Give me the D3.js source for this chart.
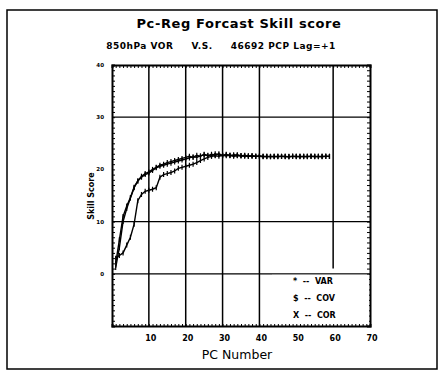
<!DOCTYPE html>
<html><head><meta charset="utf-8">
<script src="https://cdn.jsdelivr.net/npm/d3@7"></script>
<style>body{margin:0;background:#fff}svg{display:block}text{font-family:"DejaVu Sans",sans-serif;fill:#000}</style>
</head><body>
<script>
const pcNumbers = d3.range(1, 60);
const varScore = [2.0,6.5,11.0,13.0,14.6,16.6,17.8,18.5,19.0,19.3,19.8,20.3,20.6,20.8,21.0,21.2,21.4,21.6,21.8,22.0,22.2,22.4,22.3,22.6,22.8,22.6,22.9,22.7,23.0,22.7,22.9,22.6,22.8,22.7,22.6,22.7,22.5,22.6,22.5,22.6,22.5,22.4,22.5,22.5,22.4,22.5,22.5,22.4,22.5,22.5,22.4,22.5,22.5,22.5,22.4,22.5,22.5,22.5,22.5];
const covScore = [3.0,3.5,4.0,5.5,7.0,9.5,14.0,15.2,15.8,16.0,16.2,16.5,18.5,19.0,19.2,19.4,19.7,20.2,20.4,20.6,20.8,21.0,21.3,21.7,22.0,22.3,22.5,22.6,22.5,22.7,22.6,22.7,22.5,22.6,22.6,22.5,22.6,22.5,22.5,22.5,22.4,22.5,22.5,22.4,22.5,22.5,22.5,22.4,22.5,22.5,22.5,22.4,22.5,22.5,22.5,22.4,22.5,22.5,22.5];
const corScore = [1.2,5.0,10.0,12.5,14.5,16.5,17.8,18.7,19.2,19.5,20.0,20.4,20.8,21.0,21.3,21.5,21.7,21.9,22.1,22.3,22.5,22.3,22.7,22.5,22.9,22.7,22.6,23.0,22.8,22.6,22.8,22.7,22.6,22.8,22.6,22.6,22.5,22.6,22.5,22.5,22.5,22.5,22.4,22.5,22.5,22.5,22.4,22.5,22.5,22.4,22.5,22.5,22.4,22.5,22.5,22.5,22.4,22.5,22.5];
const xTicks = [10,20,30,40,50,60,70];
const yTicks = [0,10,20,30,40];
const xGrid = [10,20,30,40,60];
const yGrid = [0,10,30];
const legendItems = ["*  --  VAR","$  --  COV","X  --  COR"];

const W=439,H=372;
const svg=d3.select("body").append("svg").attr("width",W).attr("height",H);
svg.append("rect").attr("x",7).attr("y",10).attr("width",430).attr("height",359)
  .attr("fill","none").attr("stroke","#000").attr("stroke-width",1.5);

const L=112,R=370,T=65,B=326;
const x=d3.scaleLinear().domain([0,70]).range([L,R]);
const y=d3.scaleLinear().domain([-10,40]).range([B,T]);

// grid
svg.append("g").selectAll("line").data(xGrid).join("line")
  .attr("x1",d=>x(d)).attr("x2",d=>x(d)).attr("y1",T).attr("y2",d=>d===60?y(1):B)
  .attr("stroke","#000").attr("stroke-width",1.5);
svg.append("g").selectAll("line").data(yGrid).join("line")
  .attr("x1",L).attr("x2",R).attr("y1",d=>y(d)).attr("y2",d=>y(d))
  .attr("stroke","#000").attr("stroke-width",1.3);

// axes with minor ticks
const gl=svg.append("g").attr("transform",`translate(${L},0)`)
  .call(d3.axisRight(y).ticks(50).tickSize(3).tickFormat(""));
const gr=svg.append("g").attr("transform",`translate(${R},0)`)
  .call(d3.axisLeft(y).ticks(50).tickSize(3).tickFormat(""));
const gt=svg.append("g").attr("transform",`translate(0,${T})`)
  .call(d3.axisBottom(x).ticks(70).tickSize(3).tickFormat(""));
const gb=svg.append("g").attr("transform",`translate(0,${B})`)
  .call(d3.axisTop(x).ticks(70).tickSize(2).tickFormat(""));
[gl,gr,gt,gb].forEach(g=>{g.selectAll("path").attr("stroke-width",2);g.selectAll("line").attr("stroke-width",1);});

// tick labels
svg.append("g").selectAll("text").data(xTicks).join("text")
  .attr("x",d=>x(d)+2).attr("y",341).attr("text-anchor","middle")
  .attr("font-size",8).attr("font-weight","bold").text(d=>d);
svg.append("g").selectAll("text").data(yTicks).join("text")
  .attr("x",104).attr("y",d=>y(d)+2).attr("text-anchor","end")
  .attr("font-size",5.5).attr("font-weight","bold").text(d=>d);

// series
const series=[varScore,covScore,corScore];
const line=d3.line().x((d,i)=>x(pcNumbers[i])).y(d=>y(d));
series.forEach(s=>{
  svg.append("path").datum(s).attr("d",line).attr("fill","none")
    .attr("stroke","#000").attr("stroke-width",1.4);
  svg.append("g").selectAll("line").data(s).join("line")
    .attr("x1",(d,i)=>x(pcNumbers[i])).attr("x2",(d,i)=>x(pcNumbers[i]))
    .attr("y1",d=>y(d)-2.5).attr("y2",d=>y(d)+2.5)
    .attr("stroke","#000").attr("stroke-width",1.2);
});

// legend
svg.append("rect").attr("x",272).attr("y",y(0)+1).attr("width",R-273).attr("height",B-y(0)-3).attr("fill","#fff");
svg.append("g").selectAll("text").data(legendItems).join("text")
  .attr("x",293).attr("y",(d,i)=>284+i*17).attr("font-size",8).attr("font-weight","bold")
  .style("white-space","pre").text(d=>d);

// titles
svg.append("text").attr("x",239).attr("y",28).attr("text-anchor","middle")
  .attr("font-size",13).attr("font-weight","bold").attr("letter-spacing",0.6).text("Pc-Reg Forcast Skill score");
svg.append("text").attr("x",221).attr("y",49).attr("text-anchor","middle")
  .attr("font-size",9).attr("font-weight","bold").attr("letter-spacing",0.5).style("white-space","pre")
  .text("850hPa VOR     V.S.     46692 PCP Lag=+1");
svg.append("text").attr("transform","translate(94,196) rotate(-90)").attr("text-anchor","middle")
  .attr("font-size",8).attr("font-weight","bold").text("Skill Score");
svg.append("text").attr("x",237).attr("y",359).attr("text-anchor","middle")
  .attr("font-size",12.5).text("PC Number");
</script>
</body></html>
